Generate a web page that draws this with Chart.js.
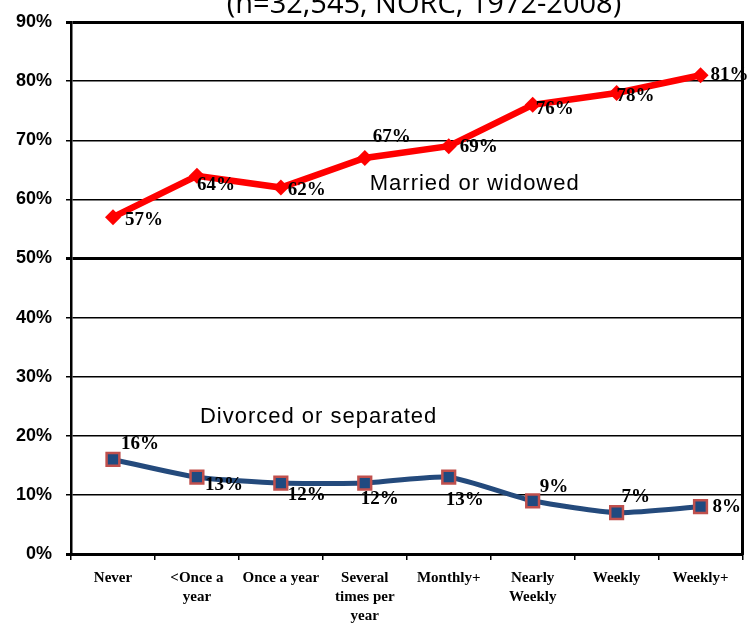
<!DOCTYPE html>
<html>
<head>
<meta charset="utf-8">
<script src="https://cdn.jsdelivr.net/npm/chart.js@4"></script>
<style>
  html, body { margin: 0; padding: 0; background: #fff; }
  #wrap { width: 754px; height: 624px; }
</style>
</head>
<body>
<div id="wrap"><canvas id="marriageChart" width="754" height="624"></canvas></div>
<script>
const categories = [
    'Never', ['<Once a', 'year'], 'Once a year', ['Several', 'times per', 'year'],
    'Monthly+', ['Nearly', 'Weekly'], 'Weekly', 'Weekly+'
];
const married = [57, 64, 62, 67, 69, 76, 78, 81];
const divorced = [16, 13, 12, 12, 13, 9, 7, 8];
const yTicks = [0, 10, 20, 30, 40, 50, 60, 70, 80, 90];
const titleText = '(n=32,545, NORC, 1972-2008)';
const seriesNames = ['Married or widowed', 'Divorced or separated'];

// label offsets (left edge dx, middle dy) per point
const labelOffsets = [
    [[12, 3], [0, 9], [7, 3], [8, -21], [11, 1], [3, 4], [0, 3], [10, 0]],
    [[8, -15], [8, 8], [7, 12], [-4, 16], [-3, 23], [7, -14], [5, -16], [12, 0]]
];

const ctx = document.getElementById('marriageChart').getContext('2d');

function lerpX(xs, a, t) {
    const p0 = xs.getPixelForValue(a), p1 = xs.getPixelForValue(a + 1);
    return p0 + (p1 - p0) * t;
}

const chart = new Chart(ctx, {
    type: 'line',
    data: {
        labels: categories,
        datasets: [{
            label: seriesNames[0],
            data: married,
            borderColor: '#ff0000',
            backgroundColor: '#ff0000',
            borderWidth: 6.5,
            pointStyle: 'rectRot',
            pointRadius: 8,
            pointBorderWidth: 0,
            pointBackgroundColor: '#ff0000',
            tension: 0
        }, {
            label: seriesNames[1],
            data: divorced,
            borderColor: '#244a7c',
            backgroundColor: '#244a7c',
            borderWidth: 5,
            pointStyle: 'rect',
            pointRadius: 9,
            pointBorderWidth: 2.5,
            pointBorderColor: '#c0504d',
            pointBackgroundColor: '#1f4a80',
            tension: 0.2
        }]
    },
    options: {
        responsive: false,
        animation: false,
        layout: { padding: { top: 20, right: 0, left: 0, bottom: 0 } },
        plugins: {
            legend: { display: false },
            tooltip: { enabled: false }
        },
        scales: {
            x: {
                offset: true,
                grid: {
                    offset: true,
                    drawOnChartArea: false,
                    drawTicks: true,
                    tickLength: 6,
                    color: '#000',
                    lineWidth: 1.5
                },
                border: { color: '#000', width: 3 },
                ticks: {
                    color: '#000',
                    padding: 9,
                    maxRotation: 0,
                    autoSkip: false,
                    font: { family: '"Liberation Serif", serif', size: 15, weight: 'bold', lineHeight: 1.25 }
                },
                afterFit(scale) { scale.height = 70; }
            },
            y: {
                min: 0,
                max: 90,
                afterBuildTicks(scale) { scale.ticks = yTicks.map(v => ({ value: v })); },
                grid: {
                    color: '#000',
                    lineWidth: c => ([0, 50, 90].includes(c.tick && c.tick.value) ? 3 : 1.5),
                    tickLength: 5
                },
                border: { color: '#000', width: 2.5 },
                ticks: {
                    color: '#000',
                    padding: 14,
                    callback: v => v + '%',
                    font: { family: '"Liberation Sans", sans-serif', size: 18, weight: 'bold', lineHeight: 0.9 }
                },
                afterFit(scale) { scale.width = 71; }
            },
            y2: {
                position: 'right',
                min: 0,
                max: 90,
                grid: { display: false },
                ticks: { display: false },
                border: { color: '#000', width: 3 },
                afterFit(scale) { scale.width = 6; }
            }
        }
    },
    plugins: [{
        id: 'customText',
        afterDatasetsDraw(chart) {
            const c = chart.ctx;
            c.save();
            // data labels
            c.fillStyle = '#000';
            c.font = 'bold 19px "Liberation Serif", serif';
            c.textAlign = 'left';
            c.textBaseline = 'middle';
            chart.data.datasets.forEach((ds, di) => {
                chart.getDatasetMeta(di).data.forEach((pt, i) => {
                    const off = labelOffsets[di][i];
                    c.fillText(ds.data[i] + '%', pt.x + off[0], pt.y + off[1]);
                });
            });
            // series captions
            const xs = chart.scales.x, ys = chart.scales.y;
            c.font = '22px "Liberation Sans", sans-serif';
            c.letterSpacing = '1px';
            c.textAlign = 'center';
            c.fillText(seriesNames[0], lerpX(xs, 4, 0.31), ys.getPixelForValue(62.7));
            c.fillText(seriesNames[1], lerpX(xs, 2, 0.45), ys.getPixelForValue(23.2));
            // title, cut off at top
            c.letterSpacing = '0px';
            c.font = '29px "Open Sans", sans-serif';
            c.textBaseline = 'alphabetic';
            c.fillText(titleText, 424, 13);
            c.restore();
        }
    }]
});
</script>
</body>
</html>
